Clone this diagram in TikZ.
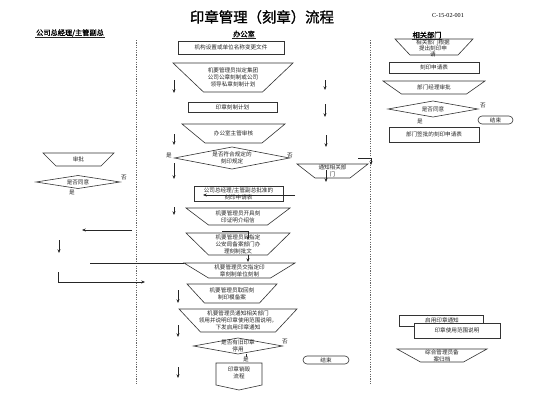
\documentclass[tikz,border=0pt]{standalone}
\usepackage{fontspec}
\setmainfont{Liberation Serif}
\newfontfamily\cjk{Noto Sans CJK SC}
\newfontfamily\cjkb[FakeBold=1.2]{Noto Sans CJK SC}
\usetikzlibrary{arrows.meta}
\tikzset{
 txt/.style={font=\cjk\fontsize{4.2}{5.2}\selectfont, align=center, inner sep=0pt, text=black!85},
 shp/.style={draw=black!80, line width=0.45pt},
 lbl/.style={font=\cjk\fontsize{4.2}{5}\selectfont, inner sep=0pt, text=black!85},
 arr/.style={draw=black!85, line width=0.5pt, -{Stealth[length=2.8pt,width=2.3pt]}},
 pln/.style={draw=black!85, line width=0.45pt},
 lane/.style={draw=black!60, line width=0.5pt, dash pattern=on 0.9pt off 0.9pt},
 hdr/.style={font=\cjkb\fontsize{5.4}{6}\selectfont, inner sep=0.6pt},
}
\newcommand\trapz[7]{\draw[shp] ({#2-#4/2},{#3-#6/2}) -- ({#2+#4/2},{#3-#6/2}) -- ({#2+#5/2},{#3+#6/2}) -- ({#2-#5/2},{#3+#6/2}) -- cycle; \node[txt] (#1) at (#2,#3) {#7};}
\newcommand\rectbox[6]{\draw[shp,fill=white] (#2,#3) rectangle (#4,#5); \node[txt] (#1) at ({(#2+#4)/2},{(#3+#5)/2}) {#6};}
\newcommand\dmd[6]{\draw[shp] ({#2-#4/2},#3) -- (#2,{#3-#5/2}) -- ({#2+#4/2},#3) -- (#2,{#3+#5/2}) -- cycle; \node[txt] (#1) at (#2,#3) {#6};}
\newcommand\tbox[6]{\draw[shp,rounded corners=3pt] (#2,#3) rectangle (#4,#5); \node[txt] (#1) at ({(#2+#4)/2},{(#3+#5)/2}) {#6};}
\newcommand\arrw[5]{\coordinate (#1s) at (#2,#3); \coordinate (#1e) at (#4,#5); \draw[arr] (#1s) -- (#1e);}
\begin{document}
\begin{tikzpicture}[x=0.75pt,y=-0.75pt]
\useasboundingbox[fill=white] (0,0) rectangle (533,400);
% title and headers
\node[font=\cjkb\fontsize{10.8}{12}\selectfont, inner sep=0pt] (title) at (262,17) {印章管理（刻章）流程};
\node[font=\fontsize{4.6}{5}\selectfont, inner sep=0pt] (code) at (448,15) {C-15-02-001};
\node[hdr] (h1) at (70,33) {公司总经理/主管副总};
\node[hdr] (h2) at (244,34) {办公室};
\node[hdr] (h3) at (427,35) {相关部门};
\draw[pln] (h1.south west) -- (h1.south east);
\draw[pln] (h2.south west) -- (h2.south east);
\draw[pln] (h3.south west) -- (h3.south east);
% lanes
\coordinate (l1t) at (136,40); \coordinate (l1b) at (136,384);
\coordinate (l2t) at (370,40); \coordinate (l2b) at (370,384);
\draw[lane] (l1t) -- (l1b);
\draw[lane] (l2t) -- (l2b);
% office column
\rectbox{n1}{178}{41}{284}{54}{机构设置或单位名称变更文件}
\trapz{n2}{233}{77.5}{120}{59}{29}{机要管理员拟定集团\\公司公章刻制或公司\\领导私章刻制计划}
\rectbox{n3}{188}{102}{277}{112}{印章刻制计划}
\trapz{n4}{233.5}{133.5}{103}{57}{19}{办公室主管审核}
\dmd{n5}{232}{158}{115}{22}{是否符合规定的\\刻印规定}
\node[lbl] (n5y) at (169,155) {是};
\node[lbl] (n5n) at (290,156) {否};
\trapz{n6}{332.5}{171}{71}{35}{14}{通知相关部\\门}
\rectbox{n7}{194}{186}{283}{201}{公司总经理/主管副总批准的\\刻印申请表}
\trapz{n8}{238}{216.5}{104}{59}{17}{机要管理员开具刻\\印证明介绍信}
\trapz{n9}{238}{244}{104}{59}{22}{机要管理员到指定\\公安局备案部门办\\理刻制批文}
\trapz{n10}{239.5}{270.5}{111}{62}{15}{机要管理员交指定印\\章刻制单位刻制}
\trapz{n11}{232}{293.5}{90}{55}{19}{机要管理员取回刻\\制印模备案}
\trapz{n12}{238}{320.5}{118}{75}{23}{机要管理员通知相关部门\\领用并说明印章使用范围说明，\\下发启用印章通知}
\dmd{n13}{238}{346}{89}{16}{是否有旧印章\\停用}
\node[lbl] (n13n) at (285,342) {否};
\node[lbl] (n13y) at (246,359.5) {是};
\tbox{n14}{303}{356}{349}{364}{结束}
\draw[shp] (216,363) -- (262,363) -- (262,385) -- (239,390) -- (216,385) -- cycle;
\node[txt] (n15) at (239,373) {印章销毁\\流程};
% left column
\trapz{L1}{78.5}{159.5}{71}{45}{13}{审批}
\dmd{L2}{78}{182}{84}{13}{是否同意}
\node[lbl] (L2n) at (124,178) {否};
\node[lbl] (L2y) at (72,192) {是};
% right column
\trapz{R1}{434}{47}{78}{48}{16}{}
\node[txt, font=\cjk\fontsize{4.2}{4.6}\selectfont] (R1t) at (433,48) {相关部门根据\\提出刻印申\\请};
\rectbox{R2}{389}{62}{479}{73}{刻印申请表}
\trapz{R3}{434}{87.5}{102}{65}{13}{部门经理审批}
\dmd{R4}{433}{109}{90}{16}{是否同意}
\node[lbl] (R4n) at (483,106) {否};
\node[lbl] (R4y) at (420,121) {是};
\tbox{R5}{478}{116}{513}{124}{结束}
\rectbox{R6}{389}{127}{479}{142}{部门签批的刻印申请表}
\draw[shp,fill=white] (399,315) rectangle (483,326);
\node[txt] (R7) at (442,320) {启用印章通知};
\rectbox{R8}{414}{323}{500}{338}{印章使用范围说明}
\trapz{R9}{442}{355.5}{90}{43}{13}{综合管理员备\\案归档}
% arrows
\arrw{a1}{174}{80}{174}{93}
\arrw{a2}{174}{134}{174}{145}
\arrw{a3}{174}{163}{174}{179}
\arrw{a4}{174}{207}{174}{215}
\arrw{a5}{325}{80}{325}{90}
\arrw{a6}{325}{104}{325}{117}
\arrw{a7}{326}{135}{326}{147}
\arrw{a8}{326}{170}{326}{182}
\arrw{a9}{178}{290}{178}{303}
\arrw{a10}{178}{325}{178}{337}
\arrw{a11}{178}{367}{178}{378}
\arrw{a12}{132}{230}{82}{230}
\arrw{a13}{59}{240}{59}{253}
\arrw{a14}{295}{195}{203}{195}
\arrw{a15}{248}{255}{248}{262}
\coordinate (b1s) at (90,263); \coordinate (b1e) at (184,263);
\draw[pln] (b1s) -- (b1e);
\coordinate (b2s) at (58,272); \coordinate (b2m) at (58,282); \coordinate (b2e) at (145,282);
\draw[arr] (b2s) -- (b2m) -- (b2e);
\coordinate (b3s) at (222,231); \coordinate (b3m) at (248,231); \coordinate (b3e) at (248,240);
\draw[arr] (b3s) -- (b3m) -- (b3e);
\coordinate (b4s) at (358,158); \coordinate (b4m) at (371,158); \coordinate (b4e) at (371,165);
\draw[arr] (b4s) -- (b4m) -- (b4e);
\coordinate (b5s) at (246,354); \coordinate (b5e) at (246,357);
\draw[pln] (b5s) -- (b5e);
\end{tikzpicture}
\end{document}
